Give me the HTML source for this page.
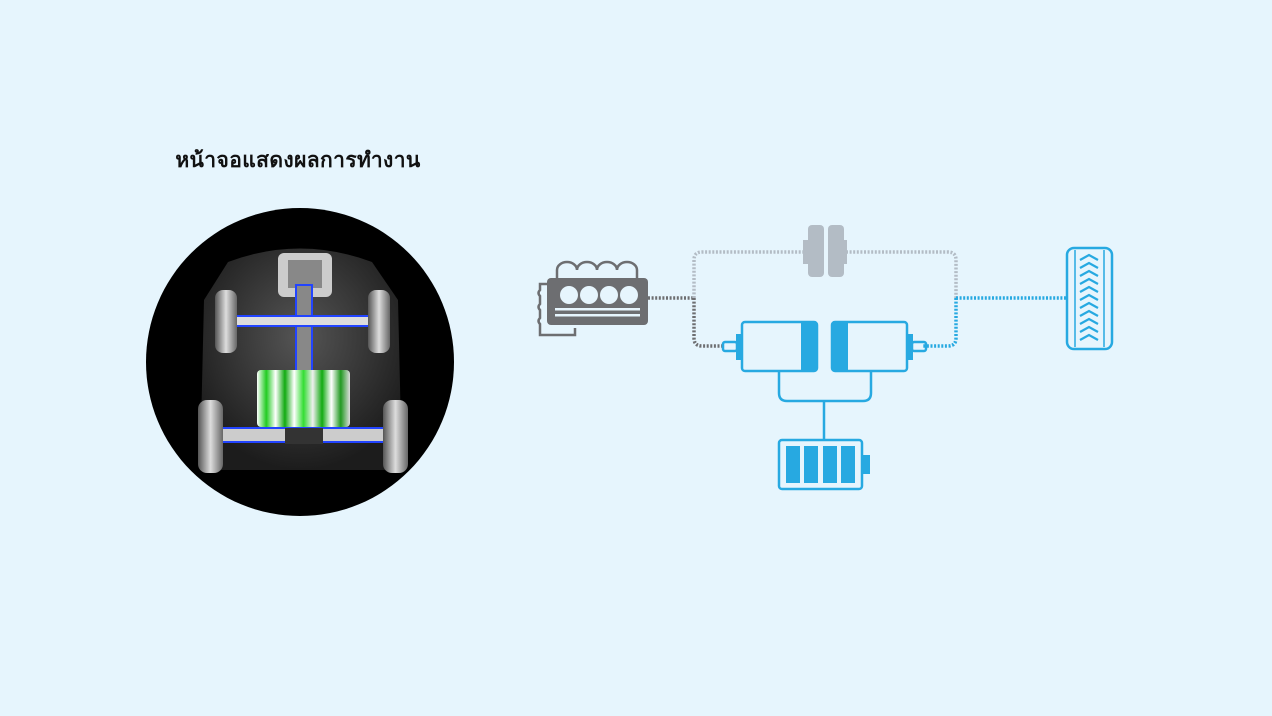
<!DOCTYPE html>
<html><head><meta charset="utf-8"><style>
html,body{margin:0;padding:0;background:#e6f5fd;}
body{width:1272px;height:716px;position:relative;overflow:hidden;}
.t{position:absolute;left:148px;top:144px;width:300px;text-align:center;font:bold 21px "Liberation Sans","Noto Sans CJK SC",sans-serif;letter-spacing:0.4px;color:#111;}
</style></head><body>
<div class="t">หน้าจอแสดงผลการทำงาน</div>
<svg width="1272" height="716" style="position:absolute;left:0;top:0">
<defs>
<radialGradient id="bd" cx="50%" cy="40%" r="60%"><stop offset="0" stop-color="#555"/><stop offset="1" stop-color="#1c1c1c"/></radialGradient>
<linearGradient id="wh" x1="0" x2="1"><stop offset="0" stop-color="#555"/><stop offset=".5" stop-color="#ddd"/><stop offset="1" stop-color="#666"/></linearGradient>
<linearGradient id="gr" x1="0" x2="1"><stop offset="0" stop-color="#fff"/><stop offset=".1" stop-color="#2c2"/><stop offset=".2" stop-color="#fff"/><stop offset=".3" stop-color="#1a1"/><stop offset=".4" stop-color="#fff"/><stop offset=".5" stop-color="#3d3"/><stop offset=".6" stop-color="#eee"/><stop offset=".7" stop-color="#1a1"/><stop offset=".8" stop-color="#fff"/><stop offset=".9" stop-color="#292"/><stop offset="1" stop-color="#ddd"/></linearGradient>
</defs>
<circle cx="300" cy="362" r="154" fill="#000"/>
<path d="M228 262 Q300 235 372 262 L398 300 L402 470 L200 470 L204 300 Z" fill="url(#bd)"/>
<rect x="278" y="253" width="54" height="44" rx="6" fill="#ccc"/>
<rect x="288" y="260" width="34" height="28" fill="#888"/>
<rect x="296" y="285" width="16" height="90" fill="#888" stroke="#2244ff" stroke-width="2"/>
<rect x="233" y="316" width="140" height="10" fill="#ddd" stroke="#2244ff" stroke-width="2"/>
<rect x="210" y="428" width="190" height="14" fill="#ccc" stroke="#2244ff" stroke-width="2"/>
<rect x="285" y="428" width="38" height="16" fill="#333"/>
<rect x="257" y="370" width="93" height="57" rx="4" fill="url(#gr)"/>
<rect x="215" y="290" width="22" height="63" rx="8" fill="url(#wh)"/>
<rect x="368" y="290" width="22" height="63" rx="8" fill="url(#wh)"/>
<rect x="198" y="400" width="25" height="73" rx="9" fill="url(#wh)"/>
<rect x="383" y="400" width="25" height="73" rx="9" fill="url(#wh)"/>

<g fill="none" stroke-width="3.5" stroke-dasharray="2 1.6">
<path d="M648 298 H694" stroke="#6d6e71"/>
<path d="M694 298 V338 Q694 346 702 346 H723" stroke="#6d6e71"/>
<path d="M694 298 V260 Q694 252 702 252 H803 M846 252 H948 Q956 252 956 260 V298" stroke="#b3bcc5"/>
<path d="M956 298 V338 Q956 346 948 346 H922 M956 298 H1066" stroke="#27a9e1"/>
</g>
<rect x="803" y="240" width="8" height="24" fill="#b3bcc5"/>
<rect x="808" y="225" width="16" height="52" rx="4" fill="#b3bcc5"/>
<rect x="828" y="225" width="16" height="52" rx="4" fill="#b3bcc5"/>
<rect x="841" y="240" width="6" height="24" fill="#b3bcc5"/>
<g stroke="#6d6e71" stroke-width="2.5" fill="none">
<path d="M557 278 V270 A10 8 0 0 1 577 270 A10 8 0 0 1 597 270 A10 8 0 0 1 617 270 A10 8 0 0 1 637 270 V278"/>
<path d="M547 284 H540 V290 Q537 293 540 296 V304 Q537 307 540 310 V318 Q537 321 540 324 V335 H575 V328"/>
</g>
<rect x="547" y="278" width="101" height="47" rx="4" fill="#6d6e71"/>
<g fill="#e6f5fd"><circle cx="569" cy="295" r="9"/><circle cx="589" cy="295" r="9"/><circle cx="609" cy="295" r="9"/><circle cx="629" cy="295" r="9"/>
<rect x="555" y="308" width="85" height="2.5"/><rect x="555" y="314" width="85" height="2.5"/></g>
<g stroke="#27a9e1" stroke-width="2.5" fill="none">
<rect x="742" y="322" width="75" height="49" rx="3"/>
<rect x="832" y="322" width="75" height="49" rx="3"/>
<rect x="723" y="342" width="14" height="9" rx="2"/>
<rect x="912" y="342" width="14" height="9" rx="2"/>
<path d="M779 371 V393 Q779 401 787 401 H863 Q871 401 871 393 V371 M824 401 V439"/>
<rect x="779" y="440" width="83" height="49" rx="3"/>
<rect x="1067" y="248" width="45" height="101" rx="7"/>
</g>
<g fill="#27a9e1">
<rect x="801" y="322" width="16" height="49"/>
<rect x="832" y="322" width="16" height="49"/>
<rect x="736" y="334" width="6" height="26"/>
<rect x="907" y="334" width="6" height="26"/>
<rect x="786" y="446" width="14" height="37"/><rect x="804" y="446" width="14" height="37"/><rect x="823" y="446" width="14" height="37"/><rect x="841" y="446" width="14" height="37"/>
<rect x="862" y="455" width="8" height="19"/>
</g>
<path d="M1075 250 V347 M1104 250 V347" stroke="#27a9e1" stroke-width="1.5"/>
<g stroke="#27a9e1" stroke-width="2.2" fill="none">
<path d="M1080 260 l9-5 9 5 M1080 268 l9-5 9 5 M1080 276 l9-5 9 5 M1080 284 l9-5 9 5 M1080 292 l9-5 9 5 M1080 300 l9-5 9 5 M1080 308 l9-5 9 5 M1080 316 l9-5 9 5 M1080 324 l9-5 9 5 M1080 332 l9-5 9 5 M1080 340 l9-5 9 5"/>
</g>
</svg>
</body></html>
